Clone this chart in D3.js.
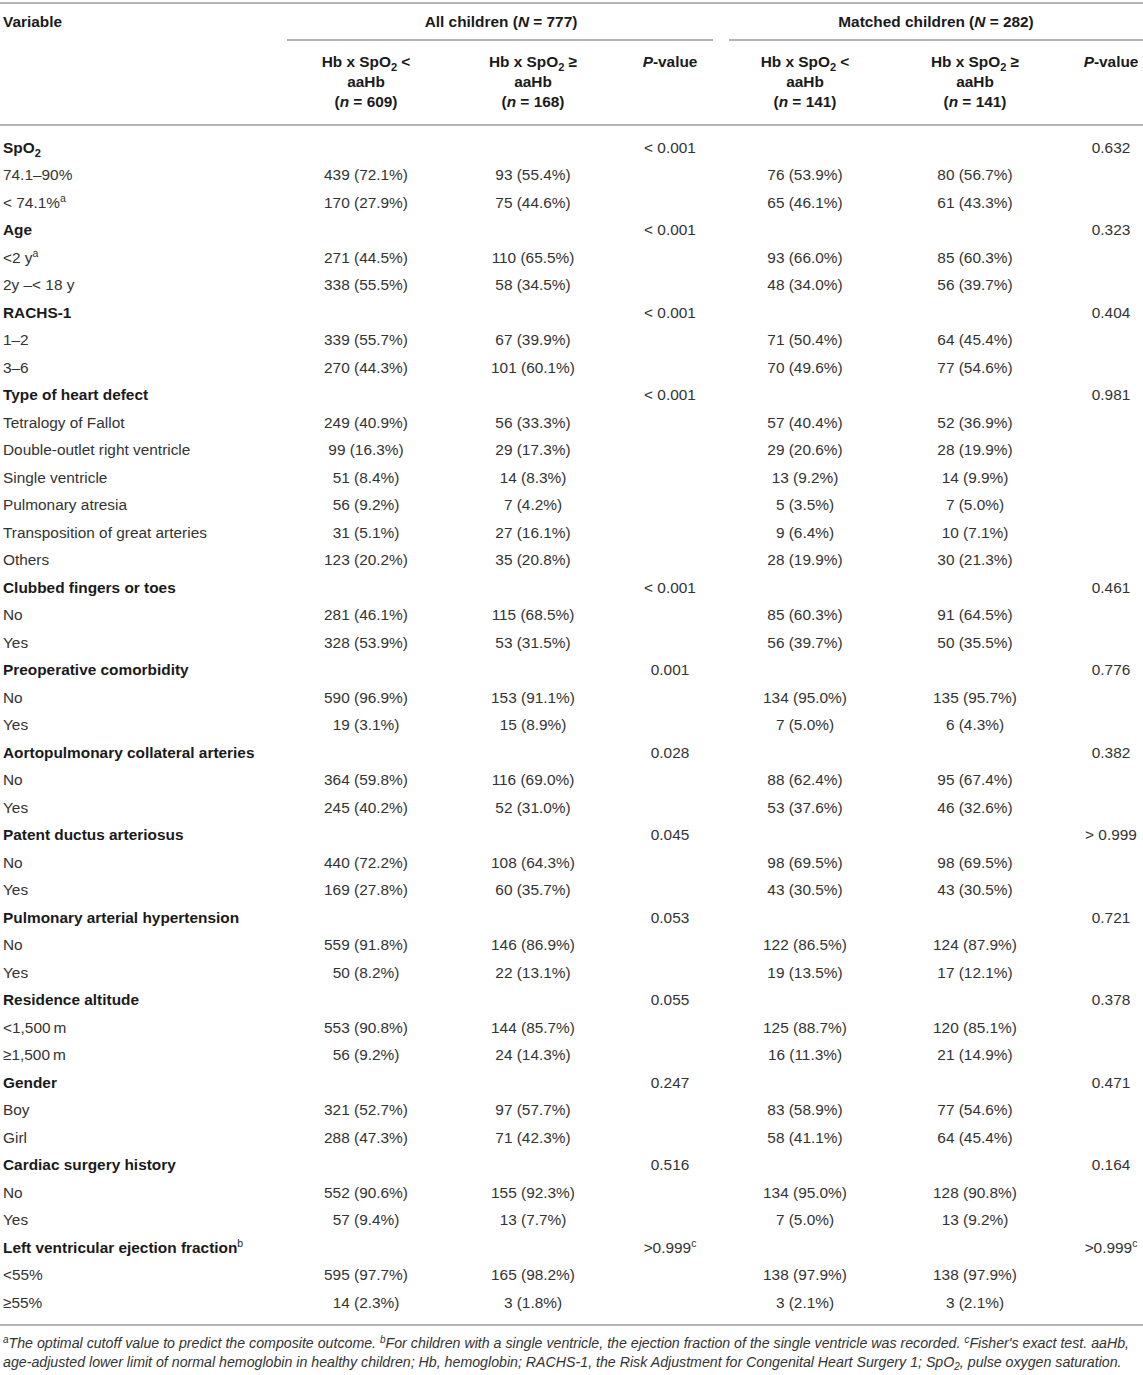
<!DOCTYPE html>
<html><head><meta charset="utf-8">
<script src="https://cdn.jsdelivr.net/npm/d3@7/dist/d3.min.js"></script>
<style>
html,body{margin:0;padding:0;background:#fff;}
svg{display:block;font-family:"Liberation Sans",Arial,Helvetica,sans-serif;}
</style></head>
<body><svg id="t" width="1143" height="1375"></svg>
<script>
// ---------- data ----------
const groupLabels = ["SpO2","Age","RACHS-1","Type of heart defect","Clubbed fingers or toes","Preoperative comorbidity","Aortopulmonary collateral arteries","Patent ductus arteriosus","Pulmonary arterial hypertension","Residence altitude","Gender","Cardiac surgery history","Left ventricular ejection fraction"];
const groupSup = ["","","","","","","","","","","","","b"];
const pAll     = ["< 0.001","< 0.001","< 0.001","< 0.001","< 0.001","0.001","0.028","0.045","0.053","0.055","0.247","0.516",">0.999"];
const pMatched = ["0.632","0.323","0.404","0.981","0.461","0.776","0.382","> 0.999","0.721","0.378","0.471","0.164",">0.999"];
const pSup     = ["","","","","","","","","","","","","c"];
const levelLabels = [
  ["74.1–90%","< 74.1%"],
  ["<2 y","2y –< 18 y"],
  ["1–2","3–6"],
  ["Tetralogy of Fallot","Double-outlet right ventricle","Single ventricle","Pulmonary atresia","Transposition of great arteries","Others"],
  ["No","Yes"],["No","Yes"],["No","Yes"],["No","Yes"],["No","Yes"],
  ["<1,500\u2009m","≥1,500\u2009m"],
  ["Boy","Girl"],["No","Yes"],
  ["<55%","≥55%"]
];
const levelSup = [["","a"],["a",""],["",""],["","","","","",""],["",""],["",""],["",""],["",""],["",""],["",""],["",""],["",""],["",""]];
const allLow = [
  ["439 (72.1%)","170 (27.9%)"],["271 (44.5%)","338 (55.5%)"],["339 (55.7%)","270 (44.3%)"],
  ["249 (40.9%)","99 (16.3%)","51 (8.4%)","56 (9.2%)","31 (5.1%)","123 (20.2%)"],
  ["281 (46.1%)","328 (53.9%)"],["590 (96.9%)","19 (3.1%)"],["364 (59.8%)","245 (40.2%)"],
  ["440 (72.2%)","169 (27.8%)"],["559 (91.8%)","50 (8.2%)"],["553 (90.8%)","56 (9.2%)"],
  ["321 (52.7%)","288 (47.3%)"],["552 (90.6%)","57 (9.4%)"],["595 (97.7%)","14 (2.3%)"]
];
const allHigh = [
  ["93 (55.4%)","75 (44.6%)"],["110 (65.5%)","58 (34.5%)"],["67 (39.9%)","101 (60.1%)"],
  ["56 (33.3%)","29 (17.3%)","14 (8.3%)","7 (4.2%)","27 (16.1%)","35 (20.8%)"],
  ["115 (68.5%)","53 (31.5%)"],["153 (91.1%)","15 (8.9%)"],["116 (69.0%)","52 (31.0%)"],
  ["108 (64.3%)","60 (35.7%)"],["146 (86.9%)","22 (13.1%)"],["144 (85.7%)","24 (14.3%)"],
  ["97 (57.7%)","71 (42.3%)"],["155 (92.3%)","13 (7.7%)"],["165 (98.2%)","3 (1.8%)"]
];
const matchedLow = [
  ["76 (53.9%)","65 (46.1%)"],["93 (66.0%)","48 (34.0%)"],["71 (50.4%)","70 (49.6%)"],
  ["57 (40.4%)","29 (20.6%)","13 (9.2%)","5 (3.5%)","9 (6.4%)","28 (19.9%)"],
  ["85 (60.3%)","56 (39.7%)"],["134 (95.0%)","7 (5.0%)"],["88 (62.4%)","53 (37.6%)"],
  ["98 (69.5%)","43 (30.5%)"],["122 (86.5%)","19 (13.5%)"],["125 (88.7%)","16 (11.3%)"],
  ["83 (58.9%)","58 (41.1%)"],["134 (95.0%)","7 (5.0%)"],["138 (97.9%)","3 (2.1%)"]
];
const matchedHigh = [
  ["80 (56.7%)","61 (43.3%)"],["85 (60.3%)","56 (39.7%)"],["64 (45.4%)","77 (54.6%)"],
  ["52 (36.9%)","28 (19.9%)","14 (9.9%)","7 (5.0%)","10 (7.1%)","30 (21.3%)"],
  ["91 (64.5%)","50 (35.5%)"],["135 (95.7%)","6 (4.3%)"],["95 (67.4%)","46 (32.6%)"],
  ["98 (69.5%)","43 (30.5%)"],["124 (87.9%)","17 (12.1%)"],["120 (85.1%)","21 (14.9%)"],
  ["77 (54.6%)","64 (45.4%)"],["128 (90.8%)","13 (9.2%)"],["138 (97.9%)","3 (2.1%)"]
];
const spanTitles = [["All children (","N"," = 777)"],["Matched children (","N"," = 282)"]];
const subN = ["609","168","141","141"];
const subOp = ["<","≥","<","≥"];

// ---------- build row list ----------
const rows = [];
groupLabels.forEach((g,i)=>{
  rows.push({type:"group",label:g,sup:groupSup[i],p1:pAll[i],p2:pMatched[i],psup:pSup[i]});
  levelLabels[i].forEach((l,j)=>{
    rows.push({type:"level",label:l,sup:levelSup[i][j],c1:allLow[i][j],c2:allHigh[i][j],c4:matchedLow[i][j],c5:matchedHigh[i][j]});
  });
});

const svg = d3.select("#t");
const W = 1143;
const ink = "#1a1a1a", soft = "#333", ruleC = "#b3b3b3";
const FS = 15.4;

const y = d3.scalePoint().domain(d3.range(rows.length)).range([147, 1302]);
const colKeys = ["var","c1","c2","p1","c4","c5","p2"];
const x = d3.scaleOrdinal().domain(colKeys).range([3, 366, 533, 670, 805, 975, 1111]);

// rules
function rule(x1,x2,yy){svg.append("line").attr("x1",x1).attr("x2",x2).attr("y1",yy).attr("y2",yy).attr("stroke",ruleC).attr("stroke-width",2);}
rule(0,W,3);
rule(287,713,40);
rule(729,W,40);
rule(0,W,125);
rule(0,W,1325);

// header
const hdr = svg.append("g").attr("font-weight","bold").attr("fill",ink).attr("font-size",FS);
hdr.append("text").attr("x",3).attr("y",27).text("Variable");
[501,936].forEach((cx,i)=>{
  const t = hdr.append("text").attr("x",cx).attr("y",27).attr("text-anchor","middle");
  t.append("tspan").text(spanTitles[i][0]);
  t.append("tspan").attr("font-style","italic").text(spanTitles[i][1]);
  t.append("tspan").text(spanTitles[i][2]);
});
["c1","c2","c4","c5"].forEach((k,i)=>{
  const cx = x(k);
  const t1 = hdr.append("text").attr("x",cx).attr("y",67).attr("text-anchor","middle");
  t1.append("tspan").text("Hb x SpO");
  t1.append("tspan").attr("font-size",FS*0.72).attr("dy",4).text("2");
  t1.append("tspan").attr("dy",-4).text(" " + subOp[i]);
  hdr.append("text").attr("x",cx).attr("y",87).attr("text-anchor","middle").text("aaHb");
  const t3 = hdr.append("text").attr("x",cx).attr("y",107).attr("text-anchor","middle");
  t3.append("tspan").text("(");
  t3.append("tspan").attr("font-style","italic").text("n");
  t3.append("tspan").text(" = " + subN[i] + ")");
});
["p1","p2"].forEach(k=>{
  const t = hdr.append("text").attr("x",x(k)).attr("y",67).attr("text-anchor","middle");
  t.append("tspan").attr("font-style","italic").text("P");
  t.append("tspan").text("-value");
});

// body
const body = svg.append("g").attr("font-size",FS);
rows.forEach((r,i)=>{
  const yy = y(i) + 5.5;
  const lab = body.append("text").attr("x",x("var")).attr("y",yy)
    .attr("fill", r.type==="group"?ink:soft)
    .attr("font-weight", r.type==="group"?"bold":"normal");
  if (r.label === "SpO2") {
    lab.append("tspan").text("SpO");
    lab.append("tspan").attr("font-size",FS*0.72).attr("dy",4).text("2");
  } else {
    lab.append("tspan").text(r.label);
  }
  if (r.sup) lab.append("tspan").attr("font-size",FS*0.68).attr("font-weight","normal").attr("dy",-6).text(r.sup);

  if (r.type==="group") {
    ["p1","p2"].forEach(k=>{
      const t = body.append("text").attr("x",x(k)).attr("y",yy).attr("text-anchor","middle").attr("fill",soft);
      t.append("tspan").text(r[k]);
      if (r.psup) t.append("tspan").attr("font-size",FS*0.68).attr("dy",-6).text(r.psup);
    });
  } else {
    ["c1","c2","c4","c5"].forEach(k=>{
      body.append("text").attr("x",x(k)).attr("y",yy).attr("text-anchor","middle").attr("fill",soft).text(r[k]);
    });
  }
});

// footnote
const fnFS = 14.2;
const fn = svg.append("g").attr("font-size",fnFS).attr("font-style","italic").attr("fill",soft);
const f1 = fn.append("text").attr("x",3).attr("y",1348);
[["a",true],["The optimal cutoff value to predict the composite outcome. ",false],["b",true],["For children with a single ventricle, the ejection fraction of the single ventricle was recorded. ",false],["c",true],["Fisher's exact test. aaHb,",false]]
  .forEach(([s,sup],i)=>{
    const t = f1.append("tspan").text(s);
    if (sup) t.attr("font-size",10).attr("dy",-5);
    else if (i>0) t.attr("dy",5);
  });
const f2 = fn.append("text").attr("x",3).attr("y",1367);
f2.append("tspan").text("age-adjusted lower limit of normal hemoglobin in healthy children; Hb, hemoglobin; RACHS-1, the Risk Adjustment for Congenital Heart Surgery 1; SpO");
f2.append("tspan").attr("font-size",10).attr("dy",3).text("2");
f2.append("tspan").attr("dy",-3).text(", pulse oxygen saturation.");
</script></body></html>
